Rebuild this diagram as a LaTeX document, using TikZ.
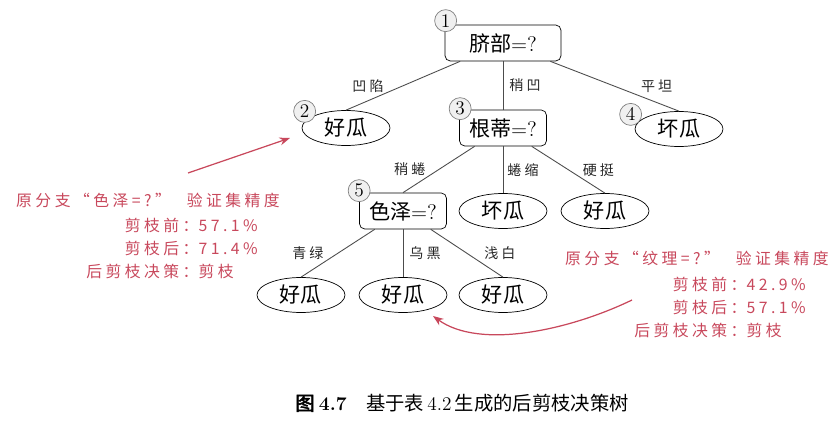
\documentclass[tikz,border=0pt]{standalone}
\usepackage{fontspec}
\newfontfamily\cjk{Noto Sans CJK SC}
\newfontfamily\cjkspaced[LetterSpace=22]{Noto Sans CJK SC}
\newfontfamily\cjkbf[FakeBold=2.5]{Noto Sans CJK SC}
\usetikzlibrary{arrows.meta,positioning,shapes.geometric}
\definecolor{notered}{RGB}{200,72,92}

\begin{document}
\begin{tikzpicture}[
  x=0.02cm, y=-0.02cm,
  font=\cjk\fontsize{12}{14}\selectfont,
  test/.style={draw, rectangle, rounded corners=3pt, minimum width=1.74cm, minimum height=0.72cm, inner sep=2pt},
  leaf/.style={draw, ellipse, minimum width=1.76cm, minimum height=0.7cm, inner sep=1pt},
  num/.style={draw=gray, fill=gray!12, circle, minimum size=0.44cm, inner sep=0pt, font=\rmfamily\fontsize{11}{12}\selectfont},
  branch/.style={draw=black!70, line width=0.5pt},
  lab/.style={font=\cjkspaced\fontsize{8}{9}\selectfont, text=black!85},
  note/.style={text=notered, font=\cjkspaced\fontsize{9}{13}\selectfont},
  notearrow/.style={notered, line width=0.7pt, -{Stealth[length=6pt,width=4.5pt]}}
]
\useasboundingbox (0,0) rectangle (840,422);

% decision tree
\node[test, minimum width=2.32cm] (qibu) at (503,43) {脐部{\rmfamily =?}};
\node[leaf] (good1) at (346,128) {好瓜};
\node[test] (gendi) at (503,128) {根蒂{\rmfamily =?}};
\node[leaf] (bad1) at (679,129) {坏瓜};
\node[test] (seze) at (403,211) {色泽{\rmfamily =?}};
\node[leaf] (bad2) at (503,211) {坏瓜};
\node[leaf] (good2) at (605,211) {好瓜};
\node[leaf] (good3) at (301,295) {好瓜};
\node[leaf] (good4) at (403,295) {好瓜};
\node[leaf] (good5) at (503,295) {好瓜};

\draw[branch] (qibu) -- (good1.north) node[lab, midway, xshift=-0.7cm] {凹陷};
\draw[branch] (qibu) -- (gendi) node[lab, midway, xshift=0.44cm] {稍凹};
\draw[branch] (qibu) -- (bad1.north) node[lab, midway, xshift=0.84cm] {平坦};
\draw[branch] (gendi) -- (seze.north) node[lab, midway, xshift=-0.58cm] {稍蜷};
\draw[branch] (gendi) -- (bad2) node[lab, midway, xshift=0.4cm] {蜷缩};
\draw[branch] (gendi) -- (good2.north) node[lab, midway, xshift=0.6cm] {硬挺};
\draw[branch] (seze) -- (good3.north) node[lab, midway, xshift=-0.6cm] {青绿};
\draw[branch] (seze) -- (good4) node[lab, midway, xshift=0.44cm] {乌黑};
\draw[branch] (seze) -- (good5.north) node[lab, midway, xshift=0.66cm] {浅白};

% node numbers
\node[num] (n1) at ([shift={(1,-4)}]qibu.north west) {1};
\node[num] (n2) at ([shift={(-10,-4)}]good1.north west) {2};
\node[num] (n3) at ([shift={(1,-1)}]gendi.north west) {3};
\node[num] (n4) at ([shift={(-17,-2)}]bad1.north west) {4};
\node[num] (n5) at ([shift={(0,-2)}]seze.north west) {5};

% pruning notes
\node[note] (note1) at (148,200) {原分支“色泽=?”\quad 验证集精度};
\node[note] (acc1) at (172,250) {\begin{tabular}{@{}r@{：}l@{}}
剪枝前 & 57.1\% \\ 剪枝后 & 71.4\% \\ 后剪枝决策 & 剪枝
\end{tabular}};
\node[note] (note2) at (697,258) {原分支“纹理=?”\quad 验证集精度};
\node[note] (acc2) at (720,309) {\begin{tabular}{@{}r@{：}l@{}}
剪枝前 & 42.9\% \\ 剪枝后 & 57.1\% \\ 后剪枝决策 & 剪枝
\end{tabular}};

\coordinate (a1s) at (188,173);
\coordinate (a1e) at (290,138);
\coordinate (a2s) at (632,300);
\coordinate (a2e) at (433,316);
\draw[notearrow] (a1s) -- (a1e);
\draw[notearrow] (a2s) .. controls (570,330) and (480,350) .. (a2e);

% caption
\node[font=\cjk\fontsize{11}{13}\selectfont] (cap) at (462,403)
  {{\cjkbf 图}\ {\rmfamily\bfseries 4.7}\quad 基于表\,{\rmfamily 4.2}\,生成的后剪枝决策树};
\end{tikzpicture}
\end{document}
